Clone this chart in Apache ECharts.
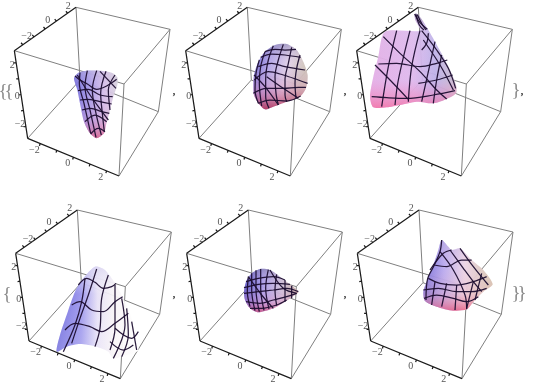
<!DOCTYPE html>
<html><head><meta charset="utf-8">
<style>html,body{margin:0;padding:0;background:#fff}#c{width:540px;height:390px;filter:blur(.4px)}</style>
<script src="https://cdn.jsdelivr.net/npm/echarts@6/dist/echarts.min.js"></script>
</head><body><div id="c"></div>
<script>
// Projected plot-box corners (panel units), shared by every panel
const cornerTopBack=[228,22], cornerTopRight=[510,88], cornerTopLeft=[43,152], cornerTopFront=[372,252];
const cornerBottomLeft=[83,415], cornerBottomFront=[357,528], cornerBottomRight=[475,335], cornerBottomBack=[240,240];
const axisRange=2.75;
const minorTicks=[-2,-1,0,1,2];
const tickLabels=['\u22122','0','2'];
const labelsBackEdge=[[80,110],[143,60],[205,18]];
const labelsLeftEdge=[[60,372],[52,290],[37,195]];
const labelsBottomEdge=[[103,450],[203,490],[302,531]];
// Panel placement
const panelOrigins=[[0,0],[170,0],[340,0],[0,195],[170,195],[340,195]];
const boxShifts=[[0,0],[4,0],[7,0],[4,23],[7,23],[9,23]];

// Surface silhouettes
const outline1=[[222,235],[235,218],[260,212],[300,212],[335,218],[352,232],[352,255],[340,290],[330,330],[318,375],[312,400],[290,415],[270,400],[252,365],[240,310],[232,270]];
const outline2=[[250,260],[252,225],[265,185],[285,155],[315,135],[350,132],[380,150],[400,185],[413,225],[408,265],[390,290],[350,305],[310,320],[285,328],[265,310],[252,285]];
const outline3=[[224,42],[232,42],[248,62],[262,85],[285,125],[310,170],[330,210],[348,255],[348,280],[320,297],[280,310],[230,305],[180,315],[140,322],[100,322],[90,290],[100,230],[115,170],[135,95],[240,92],[226,60]];
const outline4=[[170,470],[180,420],[200,360],[225,290],[250,250],[285,215],[315,225],[345,265],[375,320],[400,385],[415,465],[380,480],[340,490],[325,470],[290,455],[240,447],[200,455]];
const outline5=[[222,290],[228,260],[245,235],[270,222],[300,225],[330,245],[360,268],[385,290],[375,300],[345,320],[310,340],[265,352],[240,340],[225,315]];
const outline6=[[305,135],[325,155],[335,165],[360,160],[395,195],[430,225],[458,268],[430,290],[405,315],[380,343],[340,347],[290,335],[255,318],[250,290],[262,255],[280,210],[295,165]];

// Mesh curves
const mesh1=[
[[225,228],[240,240],[262,252],[290,268],[320,258],[350,238]],
[[234,272],[265,268],[300,285],[338,290]],
[[240,300],[262,298],[300,305],[335,312]],
[[246,330],[272,325],[305,335],[328,340]],
[[255,365],[285,345],[320,365]],
[[272,402],[295,385],[315,395]],
[[240,218],[238,250],[252,310],[272,400]],
[[262,212],[255,260],[270,330],[288,412]],
[[290,212],[277,270],[288,340],[304,405]],
[[318,214],[302,280],[307,340],[313,395]],
[[345,225],[325,270],[330,330]],
[[232,225],[270,285],[310,340],[325,360]],
[[300,214],[348,265]]
];
const mesh2=[
[[268,180],[258,220],[255,270],[265,310]],
[[285,155],[272,200],[268,250],[275,318]],
[[310,137],[295,180],[287,235],[287,290],[297,325]],
[[340,133],[325,180],[315,230],[318,280],[325,315]],
[[365,142],[355,190],[345,240],[345,285],[350,305]],
[[390,165],[380,205],[375,250],[378,295]],
[[285,155],[315,148],[345,150],[378,148]],
[[272,172],[305,162],[345,165],[392,172]],
[[265,200],[305,190],[345,200],[405,210]],
[[253,240],[295,215],[340,225],[385,240],[413,250]],
[[250,280],[290,265],[340,265],[385,262],[408,262]],
[[265,310],[300,300],[350,303],[392,288]],
[[290,230],[340,265],[385,295]],
[[252,225],[285,260],[325,315]]
];
const mesh3=[
[[170,92],[145,200],[125,320]],
[[210,92],[175,240],[165,315]],
[[240,92],[215,200],[205,305]],
[[130,110],[180,160],[240,215],[290,270],[320,297]],
[[105,195],[150,240],[205,298]],
[[115,192],[170,190],[240,200],[290,190],[322,180]],
[[95,290],[140,293],[200,295],[280,285],[345,272]],
[[245,92],[290,150],[325,205],[347,265]],
[[250,120],[300,195],[340,270]],
[[285,125],[265,215],[245,305]],
[[305,165],[290,240],[280,310]],
[[224,42],[240,68],[262,88]],
[[228,44],[238,75],[252,90]],
[[232,44],[246,72],[258,90]],
[[235,250],[290,240],[338,225]],
[[265,100],[260,130],[245,150]]
];
const mesh4=[
[[235,270],[260,250],[285,262],[310,280],[335,275],[348,265]],
[[215,330],[240,320],[275,345],[310,350],[345,320],[368,305]],
[[195,405],[225,385],[270,395],[305,410],[345,385],[385,355]],
[[290,222],[265,300],[240,370],[215,445]],
[[255,250],[245,320],[225,390],[190,470]],
[[325,240],[305,310],[300,400],[285,455]],
[[345,270],[345,340],[345,400],[330,465]],
[[365,310],[375,390],[340,490]],
[[380,340],[385,420],[365,485]],
[[395,380],[410,465]],
[[345,400],[395,430],[415,410]],
[[330,440],[370,465],[400,450]]
];
const mesh5=[
[[235,245],[232,290],[240,335]],
[[245,235],[245,285],[255,347]],
[[258,226],[258,285],[268,350]],
[[272,222],[272,280],[282,346]],
[[295,224],[287,280],[297,342]],
[[320,238],[315,285],[320,332]],
[[345,255],[345,290],[345,320]],
[[365,272],[365,310]],
[[228,260],[265,250],[310,245],[345,255]],
[[222,278],[265,268],[310,265],[360,268]],
[[222,295],[265,290],[310,285],[350,280],[385,290]],
[[228,320],[270,325],[310,315],[350,305],[380,295]],
[[240,340],[275,340],[320,330],[350,315]],
[[235,245],[275,300],[310,340]],
[[300,225],[340,280],[380,295]]
];
const mesh6=[
[[265,250],[300,265],[350,270],[400,260],[440,245]],
[[252,310],[290,300],[340,310],[380,320],[415,305]],
[[250,285],[295,280],[350,290],[395,290],[440,280]],
[[330,165],[370,220],[400,260],[425,290]],
[[360,160],[400,215],[445,270]],
[[300,170],[340,225],[375,300],[380,343]],
[[283,210],[320,215],[365,195],[395,195]],
[[285,260],[275,330]],
[[320,265],[305,335]],
[[350,270],[345,345]],
[[400,260],[380,340]],
[[425,235],[405,315]],
[[270,225],[310,175],[335,165]],
[[305,135],[300,170],[283,210],[262,255],[258,315]]
];

// Punctuation around the six panels, page units
const braceTexts=['{','{','}','{','}','}'];
const bracePositions=[[3,92],[9,92],[516,91],[7,295],[516,294],[522,294]];
const commaPositions=[[174,92],[345,92],[522,92],[174,295],[345,295]];

const outlines=[outline1,outline2,outline3,outline4,outline5,outline6];
const meshes=[mesh1,mesh2,mesh3,mesh4,mesh5,mesh6];
const L=(x,y,x2,y2,stops)=>new echarts.graphic.LinearGradient(x,y,x2,y2,stops.map((c,i)=>({offset:c[0],color:c[1]})));
const shading=[
 [L(0,0,1,0,[[0,'#6f68d8'],[.35,'#a79ae8'],[.7,'#d8c0ea'],[1,'#d8d4dc']]),L(0,0,0,1,[[0,'rgba(200,200,215,.35)'],[.25,'rgba(200,170,230,0)'],[.7,'rgba(220,140,190,.25)'],[1,'rgba(220,90,130,.85)']])],
 [L(0,0,1,.2,[[0,'#5c54c8'],[.35,'#b0a2e8'],[.7,'#e0cfe6'],[1,'#cfc4b8']]),L(0,0,0,1,[[0,'rgba(110,110,150,.45)'],[.3,'rgba(200,180,230,0)'],[.65,'rgba(215,120,170,.3)'],[1,'rgba(170,30,70,.85)']])],
 [L(0,0,1,0,[[0,'#e2b0e8'],[.5,'#dcbcf0'],[.75,'#b8b4ec'],[1,'#c8c0cc']]),L(0,0,0,1,[[0,'rgba(90,90,110,.7)'],[.14,'rgba(220,190,220,.2)'],[.7,'rgba(240,150,210,.1)'],[1,'rgba(245,110,160,.85)']])],
 [L(0,0,1,0,[[0,'#6a66dc'],[.3,'#9a94ec'],[.5,'#e6e0f6'],[.7,'#f8f4f6'],[1,'#ffffff']]),L(0,0,0,1,[[0,'rgba(215,210,240,.7)'],[.3,'rgba(255,255,255,0)'],[1,'rgba(255,255,255,.2)']])],
 [L(0,0,1,0,[[0,'#5a54c4'],[.35,'#a89ae8'],[.7,'#cfc0d8'],[1,'#c4a89c']]),L(0,0,0,1,[[0,'rgba(100,100,130,.4)'],[.35,'rgba(220,180,230,0)'],[.75,'rgba(235,140,190,.35)'],[1,'rgba(210,70,110,.8)']])],
 [L(0,0,1,0,[[0,'#7068d8'],[.3,'#b8a8ee'],[.6,'#ecd4e4'],[1,'#d4c4ac']]),L(0,0,0,1,[[0,'rgba(170,160,210,.4)'],[.35,'rgba(230,200,230,0)'],[.75,'rgba(240,170,180,.3)'],[1,'rgba(230,80,120,.8)']])]
];

const edgeGap=['-','-'];
const along=(a,b,t)=>[a[0]+(b[0]-a[0])*t,a[1]+(b[1]-a[1])*t];
const grids=[],xAxes=[],yAxes=[],series=[];
const thin=(p,i,data,name)=>({type:'line',name,xAxisIndex:i,yAxisIndex:i,data,symbol:'none',animation:false,silent:true,connectNulls:false,...p});

panelOrigins.forEach((o,i)=>{
  grids.push({left:o[0],top:o[1],width:180,height:195,containLabel:false});
  xAxes.push({type:'value',gridIndex:i,min:0,max:540,show:false});
  yAxes.push({type:'value',gridIndex:i,min:0,max:585,inverse:true,show:false});
  const s=boxShifts[i];
  const c=p=>[p[0]+s[0],p[1]+s[1]];
  const greyEdges=[[cornerTopBack,cornerTopRight],[cornerTopRight,cornerTopFront],[cornerTopFront,cornerTopLeft],[cornerTopFront,cornerBottomFront],
    [cornerBottomFront,cornerBottomRight],[cornerBottomRight,cornerTopRight],[cornerTopBack,cornerBottomBack],[cornerBottomBack,cornerBottomLeft],[cornerBottomBack,cornerBottomRight]];
  const grey=[];greyEdges.forEach(e=>grey.push(c(e[0]),c(e[1]),edgeGap));
  series.push(thin({lineStyle:{color:'#808080',width:1},z:2},i,grey,'box'));
  // surface fill
  const out=outlines[i],sh=shading[i];
  series.push({type:'custom',name:'surface',xAxisIndex:i,yAxisIndex:i,z:3,animation:false,silent:true,clip:false,
    data:out,encode:{x:0,y:1},
    renderItem:(params,api)=>{
      if(params.dataIndex!==0) return;
      const pts=out.map(p=>api.coord(p));
      return {type:'group',children:sh.map(f=>({type:'polygon',shape:{points:pts,smooth:.25},style:{fill:f,opacity:.94,stroke:null}}))};
    }});
  meshes[i].forEach(m=>series.push(thin({smooth:.35,lineStyle:{color:'#1c0e30',width:1.25,opacity:.95},z:4},i,m,'mesh')));
  // dark axis edges with ticks
  const dark=[];
  const axes=[[cornerTopLeft,cornerTopBack],[cornerTopLeft,cornerBottomLeft],[cornerBottomLeft,cornerBottomFront]];
  const tickDir=[[-5,-6],[-7,1],[-2,7]];
  axes.forEach((e,k)=>{
    const a=c(e[0]),b=c(e[1]);
    dark.push(a,b,edgeGap);
    minorTicks.forEach(v=>{
      const p=along(a,b,(v+axisRange)/(2*axisRange));
      dark.push(p,[p[0]+tickDir[k][0],p[1]+tickDir[k][1]],edgeGap);
    });
  });
  series.push(thin({lineStyle:{color:'#1c1c1c',width:1.25},z:5},i,dark,'axis'));
  // tick labels
  const labelData=[];
  [labelsBackEdge,labelsLeftEdge,labelsBottomEdge].forEach(l=>l.forEach((p,k)=>labelData.push([p[0]+s[0],p[1]+s[1],tickLabels[k]])));
  series.push({type:'custom',name:'ticks',xAxisIndex:i,yAxisIndex:i,z:6,animation:false,silent:true,clip:false,data:labelData,encode:{x:0,y:1},
    renderItem:(params,api)=>{const q=api.coord([api.value(0),api.value(1)]);
      return {type:'text',style:{x:q[0],y:q[1],text:labelData[params.dataIndex][2],align:'center',verticalAlign:'middle',fill:'#555',font:'10px "Liberation Serif"'}};}});
});

// Page layer for braces and commas
grids.push({left:0,top:0,width:540,height:390});
xAxes.push({type:'value',gridIndex:6,min:0,max:540,show:false});
yAxes.push({type:'value',gridIndex:6,min:0,max:390,inverse:true,show:false});
const pageText=(txt,pos,font,fill)=>({type:'custom',name:'punct',xAxisIndex:6,yAxisIndex:6,z:7,animation:false,silent:true,clip:false,data:pos,encode:{x:0,y:1},
  renderItem:(params,api)=>{const q=api.coord([api.value(0),api.value(1)]);
    return {type:'text',style:{x:q[0],y:q[1],text:txt[params.dataIndex],align:'center',verticalAlign:'middle',fill,font}};}});
series.push(pageText(braceTexts,bracePositions,'19px "Liberation Serif"','#8a8a8a'));
series.push(pageText(commaPositions.map(()=>','),commaPositions,'bold 10px "Liberation Serif"','#222'));

echarts.init(document.getElementById('c'),null,{renderer:'canvas'}).setOption({animation:false,backgroundColor:'#fff',grid:grids,xAxis:xAxes,yAxis:yAxes,series});
</script></body></html>
